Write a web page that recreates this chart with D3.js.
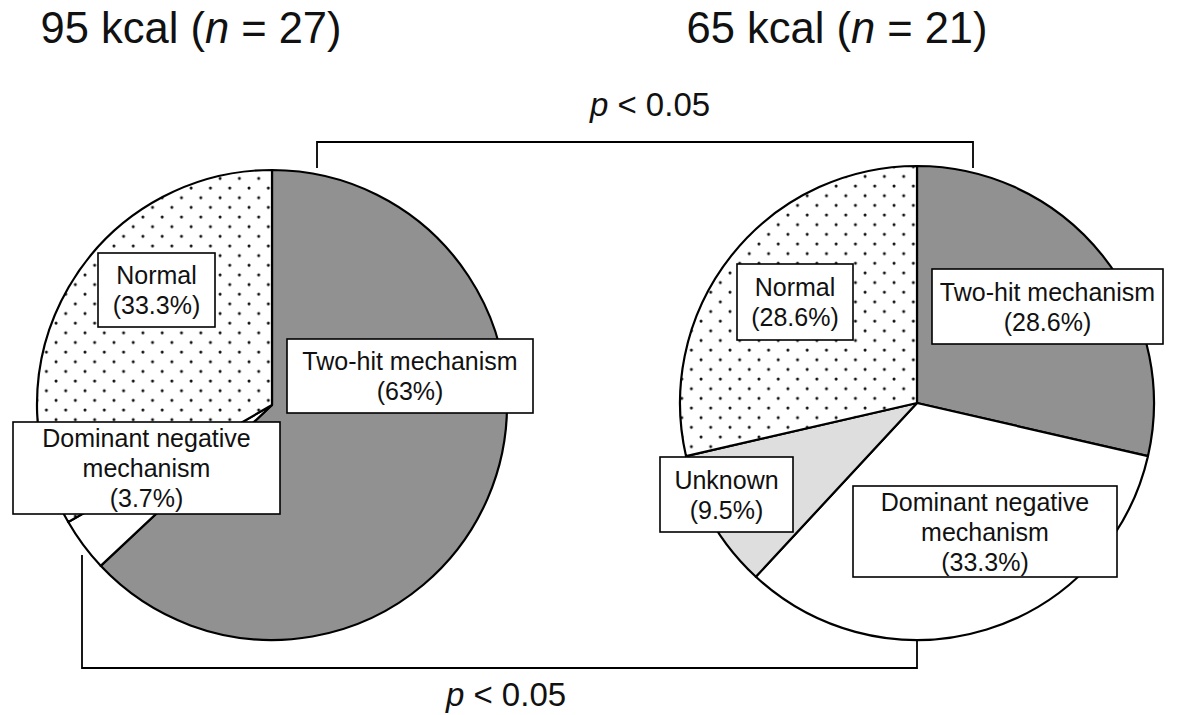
<!DOCTYPE html>
<html>
<head>
<meta charset="utf-8">
<script src="https://cdn.jsdelivr.net/npm/d3@7"></script>
<style>
  html, body { margin: 0; padding: 0; background: #fff; }
  svg { display: block; font-family: "Liberation Sans", Arial, Helvetica, sans-serif; }
</style>
</head>
<body>
<svg id="chart" width="1184" height="715"></svg>
<script>
// ---- data ----
const groupEnergy = ["95 kcal", "65 kcal"];
const groupN = [27, 21];
const leftCategories = ["Two-hit mechanism", "Dominant negative mechanism", "Normal"];
const leftValues = [63, 3.7, 33.3];
const rightCategories = ["Two-hit mechanism", "Dominant negative mechanism", "Unknown", "Normal"];
const rightValues = [28.6, 33.3, 9.5, 28.6];
const pLabels = ["p < 0.05", "p < 0.05"];

// ---- layout / style ----
const W = 1184, H = 715;
const svg = d3.select("#chart");
const fills = {
  "Two-hit mechanism": "#919191",
  "Dominant negative mechanism": "#ffffff",
  "Unknown": "#dedede",
  "Normal": "url(#dots)"
};
const labelLines = {
  "Two-hit mechanism": ["Two-hit mechanism"],
  "Dominant negative mechanism": ["Dominant negative", "mechanism"],
  "Unknown": ["Unknown"],
  "Normal": ["Normal"]
};

// dotted pattern
const defs = svg.append("defs");
const pat = defs.append("pattern").attr("id", "dots")
  .attr("patternUnits", "userSpaceOnUse")
  .attr("width", 19.3).attr("height", 19.3)
  .attr("x", 4).attr("y", 3);
pat.append("rect").attr("width", 19.3).attr("height", 19.3).attr("fill", "#fff");
pat.append("circle").attr("cx", 2).attr("cy", 2).attr("r", 1.5).attr("fill", "#111");
pat.append("circle").attr("cx", 11.65).attr("cy", 11.65).attr("r", 1.5).attr("fill", "#111");

const pies = [
  { cats: leftCategories, vals: leftValues, cx: 272, cy: 405, r: 235, titleX: 191,
    boxes: { // label box rectangles [x, y, w, h]
      "Normal": [98, 253, 117, 74],
      "Two-hit mechanism": [287, 339, 246, 74],
      "Dominant negative mechanism": [13, 422, 267, 92]
    } },
  { cats: rightCategories, vals: rightValues, cx: 917, cy: 403, r: 237, titleX: 837,
    boxes: {
      "Normal": [737, 264, 116, 76],
      "Two-hit mechanism": [932, 269, 231, 75],
      "Unknown": [660, 457, 133, 75],
      "Dominant negative mechanism": [853, 486, 264, 91]
    } }
];

const pie = d3.pie().sort(null).value(d => d.v);
const fmt = v => "(" + v + "%)";

pies.forEach((p, gi) => {
  const data = p.cats.map((c, i) => ({ c, v: p.vals[i] }));
  const arcs = pie(data);
  const arc = d3.arc().innerRadius(0).outerRadius(p.r);
  const g = svg.append("g").attr("transform", `translate(${p.cx},${p.cy})`);
  g.selectAll("path").data(arcs).join("path")
    .attr("d", arc)
    .attr("fill", d => fills[d.data.c])
    .attr("stroke", "#000")
    .attr("stroke-width", 2.2)
    .attr("stroke-linejoin", "round");

  // labels
  arcs.forEach(d => {
    const b = p.boxes[d.data.c];
    const lines = labelLines[d.data.c].concat([fmt(d.data.v)]);
    svg.append("rect")
      .attr("x", b[0]).attr("y", b[1]).attr("width", b[2]).attr("height", b[3])
      .attr("fill", "#fff").attr("stroke", "#000").attr("stroke-width", 1.6);
    const t = svg.append("text")
      .attr("text-anchor", "middle")
      .attr("font-size", 25)
      .attr("fill", "#111");
    const first = b[1] + b[3] / 2 - (lines.length - 1) * 15 + 9;
    lines.forEach((ln, k) => {
      t.append("tspan").attr("x", b[0] + b[2] / 2).attr("y", first + k * 30).text(ln);
    });
  });

  // title
  const tt = svg.append("text").attr("x", p.titleX).attr("y", 43)
    .attr("text-anchor", "middle").attr("font-size", 43.5).attr("fill", "#111");
  tt.append("tspan").text(groupEnergy[gi] + " (");
  tt.append("tspan").attr("font-style", "italic").text("n");
  tt.append("tspan").text(" = " + groupN[gi] + ")");
});

// significance brackets
function pText(x, y, s) {
  const parts = s.split(" ");
  const t = svg.append("text").attr("x", x).attr("y", y)
    .attr("text-anchor", "middle").attr("font-size", 33).attr("fill", "#111");
  t.append("tspan").attr("font-style", "italic").text(parts[0]);
  t.append("tspan").text(" " + parts.slice(1).join(" "));
}
const line = d3.line();
svg.append("path")
  .attr("d", line([[317, 168], [317, 142], [973, 142], [973, 168]]))
  .attr("fill", "none").attr("stroke", "#000").attr("stroke-width", 1.8);
pText(650, 116, pLabels[0]);

svg.append("path")
  .attr("d", line([[82, 555], [82, 668], [917, 668], [917, 640]]))
  .attr("fill", "none").attr("stroke", "#000").attr("stroke-width", 1.8);
pText(506, 706, pLabels[1]);
</script>
</body>
</html>
